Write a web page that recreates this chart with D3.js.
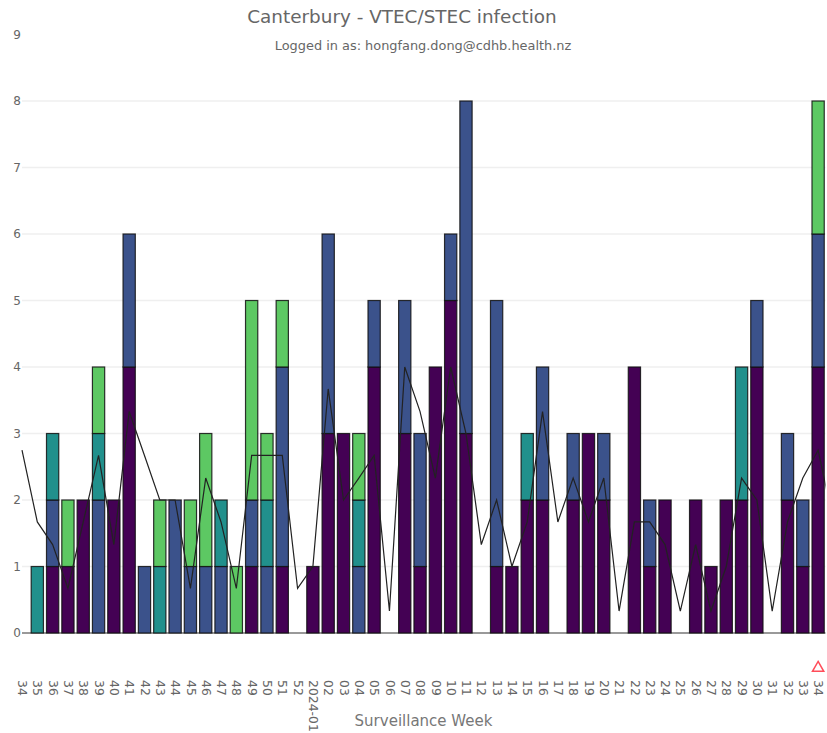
<!DOCTYPE html>
<html>
<head>
<meta charset="utf-8">
<script src="https://cdnjs.cloudflare.com/ajax/libs/d3/7.8.5/d3.min.js"></script>
<style>
    html, body { margin: 0; padding: 0; background: #fff; overflow: hidden; }
    text { font-family: "DejaVu Sans", Verdana, sans-serif; }
</style>
</head>
<body>
<div id="viz"></div>
<script>
// week labels, oldest first
var weeks = ["34", "35", "36", "37", "38", "39", "40", "41", "42", "43", "44", "45", "46", "47", "48", "49", "50", "51", "52",
    "2024-01", "02", "03", "04", "05", "06", "07", "08", "09", "10", "11", "12", "13", "14", "15", "16", "17", "18", "19", "20",
    "21", "22", "23", "24", "25", "26", "27", "28", "29", "30", "31", "32", "33", "34"];

// stacked counts per week, bottom of the stack first
var series1 = [0, 0, 1, 1, 2, 0, 2, 4, 0, 0, 0, 0, 0, 0, 0, 1, 0, 1, 0,
    1, 3, 3, 0, 4, 0, 3, 1, 4, 5, 3, 0, 1, 1, 2, 2, 0, 2, 3, 2,
    0, 4, 1, 2, 0, 2, 1, 2, 2, 4, 0, 2, 1, 4];
var series2 = [0, 0, 1, 0, 0, 2, 0, 2, 1, 0, 2, 1, 1, 1, 0, 1, 1, 3, 0,
    0, 3, 0, 1, 1, 0, 2, 2, 0, 1, 5, 0, 4, 0, 0, 2, 0, 1, 0, 1,
    0, 0, 1, 0, 0, 0, 0, 0, 0, 1, 0, 1, 1, 2];
var series3 = [0, 1, 1, 0, 0, 1, 0, 0, 0, 1, 0, 0, 0, 1, 0, 0, 1, 0, 0,
    0, 0, 0, 1, 0, 0, 0, 0, 0, 0, 0, 0, 0, 0, 1, 0, 0, 0, 0, 0,
    0, 0, 0, 0, 0, 0, 0, 0, 2, 0, 0, 0, 0, 0];
var series4 = [0, 0, 0, 1, 0, 1, 0, 0, 0, 1, 0, 1, 2, 0, 1, 3, 1, 1, 0,
    0, 0, 0, 1, 0, 0, 0, 0, 0, 0, 0, 0, 0, 0, 0, 0, 0, 0, 0, 0,
    0, 0, 0, 0, 0, 0, 0, 0, 0, 0, 0, 0, 0, 2];

// moving average line, the last value belongs to the week after the plot edge
var average = [2.75, 1.67, 1.33, 0.67, 1.67, 2.67, 1.33, 3.33, 2.67, 2, 2, 0.67, 2.33, 1.67, 0.67, 2.67, 2.67, 2.67, 0.67,
    1, 3.67, 2, 2.33, 2.67, 0.33, 4, 3.33, 2.33, 4, 3, 1.33, 2, 1, 1.67, 3.33, 1.67, 2.33, 1.67, 2.33,
    0.33, 1.67, 1.67, 1.33, 0.33, 1.33, 0.33, 1, 2.33, 2, 0.33, 1.67, 2.33, 2.75, 1.67];

var yTicks = [0, 1, 2, 3, 4, 5, 6, 7, 8, 9];
var colors = ["#440154", "#3b528b", "#21908c", "#5dc863"];
var flaggedWeek = 52;

var width = 827, height = 733;
var margin = { top: 34.5, right: 1.5, bottom: 100, left: 22 };
var step = 15.31;

var svg = d3.select("#viz")
    .append("svg")
    .attr("width", width)
    .attr("height", height);

// x is on the week index because the labels repeat
var x = d3.scaleLinear()
    .domain([0, 52])
    .range([margin.left, margin.left + 52 * step]);

var y = d3.scaleLinear()
    .domain([0, 9])
    .range([height - margin.bottom, margin.top]);

svg.append("defs").append("clipPath")
    .attr("id", "plot-clip")
    .append("rect")
    .attr("x", margin.left - 1)
    .attr("y", 0)
    .attr("width", width - margin.right - margin.left + 1)
    .attr("height", height - margin.bottom + 1);

// gridlines
svg.append("g")
    .selectAll("line")
    .data(yTicks.slice(1, 9))
    .enter()
    .append("line")
    .attr("x1", margin.left)
    .attr("x2", width - margin.right)
    .attr("y1", function (d) { return y(d); })
    .attr("y2", function (d) { return y(d); })
    .attr("stroke", "#efefef")
    .attr("stroke-width", 1.5);

// zero line
svg.append("line")
    .attr("x1", margin.left)
    .attr("x2", width - margin.right)
    .attr("y1", y(0))
    .attr("y2", y(0))
    .attr("stroke", "#777")
    .attr("stroke-width", 1.5);

// Y axis
var yAxis = svg.append("g")
    .attr("transform", "translate(" + (margin.left + 1) + ",0)")
    .call(d3.axisLeft(y).tickValues(yTicks).tickSize(0).tickPadding(2));
yAxis.select(".domain").remove();
yAxis.selectAll("text")
    .style("font-size", "12px")
    .style("fill", "#666");

// X axis, labels turned 90 degrees clockwise
var xAxis = svg.append("g")
    .attr("transform", "translate(0," + (y(0) + 47) + ")")
    .call(d3.axisBottom(x)
        .tickValues(d3.range(weeks.length))
        .tickFormat(function (i) { return weeks[i]; })
        .tickSize(0));
xAxis.select(".domain").remove();
xAxis.selectAll("text")
    .attr("transform", "rotate(90)")
    .attr("text-anchor", "start")
    .attr("x", 0)
    .attr("y", 0)
    .attr("dy", "0.35em")
    .style("font-size", "12.4px")
    .style("fill", "#666");

// stacked bars
var rows = weeks.map(function (w, i) {
    return { i: i, s1: series1[i], s2: series2[i], s3: series3[i], s4: series4[i] };
});
var stacked = d3.stack().keys(["s1", "s2", "s3", "s4"])(rows);
var barWidth = step * 0.8;

var plot = svg.append("g").attr("clip-path", "url(#plot-clip)");

plot.selectAll(".layer")
    .data(stacked)
    .enter()
    .append("g")
    .attr("fill", function (d, i) { return colors[i]; })
    .selectAll("rect")
    .data(function (d) { return d.filter(function (p) { return p[1] > p[0]; }); })
    .enter()
    .append("rect")
    .attr("x", function (d) { return x(d.data.i) - barWidth / 2; })
    .attr("y", function (d) { return y(d[1]); })
    .attr("width", barWidth)
    .attr("height", function (d) { return y(d[0]) - y(d[1]); })
    .attr("stroke", "#111")
    .attr("stroke-opacity", 0.85)
    .attr("stroke-width", 1.2);

// moving average
plot.append("path")
    .datum(average)
    .attr("fill", "none")
    .attr("stroke", "#222")
    .attr("stroke-width", 1.2)
    .attr("d", d3.line()
        .x(function (d, i) { return x(i); })
        .y(function (d) { return y(d); }));

// marker over the latest week
svg.append("path")
    .attr("d", d3.symbol().type(d3.symbolTriangle).size(55))
    .attr("transform", "translate(" + x(flaggedWeek) + "," + (y(0) + 35) + ")")
    .attr("fill", "none")
    .attr("stroke", "#ff4d5a")
    .attr("stroke-width", 1.5);

// titles
svg.append("text")
    .attr("text-anchor", "middle")
    .attr("x", 402)
    .attr("y", 23)
    .style("font-size", "18.4px")
    .style("fill", "#666")
    .text("Canterbury - VTEC/STEC infection");

svg.append("text")
    .attr("text-anchor", "middle")
    .attr("x", 423)
    .attr("y", 50)
    .style("font-size", "12.9px")
    .style("fill", "#666")
    .text("Logged in as: hongfang.dong@cdhb.health.nz");

svg.append("text")
    .attr("text-anchor", "middle")
    .attr("x", 423.5)
    .attr("y", 726)
    .style("font-size", "15px")
    .style("fill", "#777")
    .text("Surveillance Week");
</script>
</body>
</html>
